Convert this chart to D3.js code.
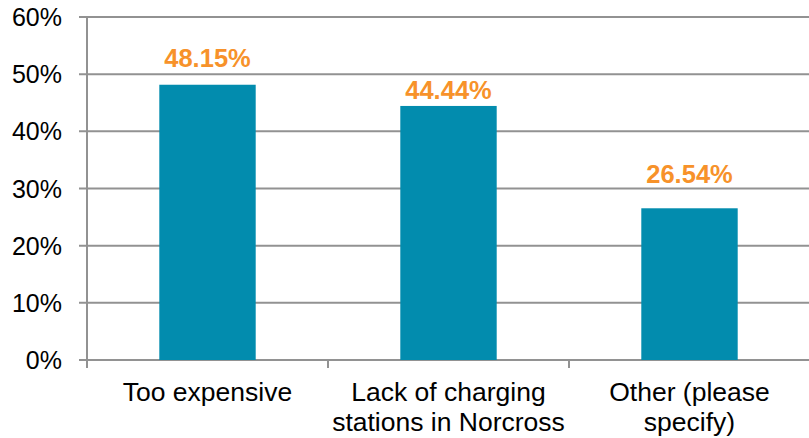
<!DOCTYPE html>
<html>
<head>
<meta charset="utf-8">
<script src="https://cdn.jsdelivr.net/npm/d3@7/dist/d3.min.js"></script>
<style>
  html, body { margin: 0; padding: 0; background: #fff; }
  svg { display: block; font-family: Arial, "Liberation Sans", sans-serif; }
</style>
</head>
<body>
<svg id="chart" width="809" height="438"></svg>
<script>
// Survey responses: reasons for not owning an electric vehicle
const categories = [
  ["Too expensive"],
  ["Lack of charging", "stations in Norcross"],
  ["Other (please", "specify)"]
];
const values = [48.15, 44.44, 26.54];
const yTicks = [0, 10, 20, 30, 40, 50, 60];

const svg = d3.select("#chart");
const W = 809, H = 438;
const margin = { top: 17, right: -1, bottom: 78, left: 87 };

const x = d3.scaleBand()
  .domain(d3.range(categories.length))
  .range([margin.left, W - margin.right])
  .paddingInner(0.6)
  .paddingOuter(0.3);

const y = d3.scaleLinear()
  .domain([0, 60])
  .range([H - margin.bottom, margin.top]);

const gridColor = "#929292";

// horizontal gridlines with short ticks to the left of the axis
svg.append("g")
  .selectAll("line")
  .data(yTicks)
  .join("line")
  .attr("x1", margin.left - 8)
  .attr("x2", W)
  .attr("y1", d => y(d))
  .attr("y2", d => y(d))
  .attr("stroke", gridColor)
  .attr("stroke-width", 2);

// y-axis labels
svg.append("g")
  .selectAll("text")
  .data(yTicks)
  .join("text")
  .attr("x", 62)
  .attr("y", d => y(d))
  .attr("dy", "0.36em")
  .attr("text-anchor", "end")
  .attr("font-size", 25)
  .attr("fill", "#000")
  .text(d => d + "%");

// vertical axis line, extending a little below zero
svg.append("line")
  .attr("x1", margin.left).attr("x2", margin.left)
  .attr("y1", y(60)).attr("y2", y(0) + 8)
  .attr("stroke", gridColor).attr("stroke-width", 2);

// category separator ticks
const bounds = d3.range(1, categories.length).map(i => margin.left + i * (W - margin.right - margin.left) / categories.length);
svg.append("g")
  .selectAll("line")
  .data(bounds)
  .join("line")
  .attr("x1", d => d).attr("x2", d => d)
  .attr("y1", y(0)).attr("y2", y(0) + 8)
  .attr("stroke", gridColor).attr("stroke-width", 2);

// bars
svg.append("g")
  .selectAll("rect")
  .data(values)
  .join("rect")
  .attr("x", (d, i) => x(i))
  .attr("width", x.bandwidth())
  .attr("y", d => y(d))
  .attr("height", d => y(0) - y(d))
  .attr("fill", "#028CAE");

// value labels above bars
const labelLift = [18, 7, 25];
svg.append("g")
  .selectAll("text")
  .data(values)
  .join("text")
  .attr("x", (d, i) => x(i) + x.bandwidth() / 2)
  .attr("y", (d, i) => y(d) - labelLift[i])
  .attr("text-anchor", "middle")
  .attr("font-size", 25.5)
  .attr("font-weight", "bold")
  .attr("fill", "#F7922A")
  .text(d => d.toFixed(2) + "%");

// category labels (multi-line)
const catG = svg.append("g")
  .selectAll("text")
  .data(categories)
  .join("text")
  .attr("x", (d, i) => x(i) + x.bandwidth() / 2)
  .attr("y", 401)
  .attr("text-anchor", "middle")
  .attr("font-size", 26.5)
  .attr("fill", "#000");
catG.selectAll("tspan")
  .data(d => d)
  .join("tspan")
  .attr("x", function () { return d3.select(this.parentNode).attr("x"); })
  .attr("dy", (d, j) => j === 0 ? 0 : 30)
  .text(d => d);
</script>
</body>
</html>
